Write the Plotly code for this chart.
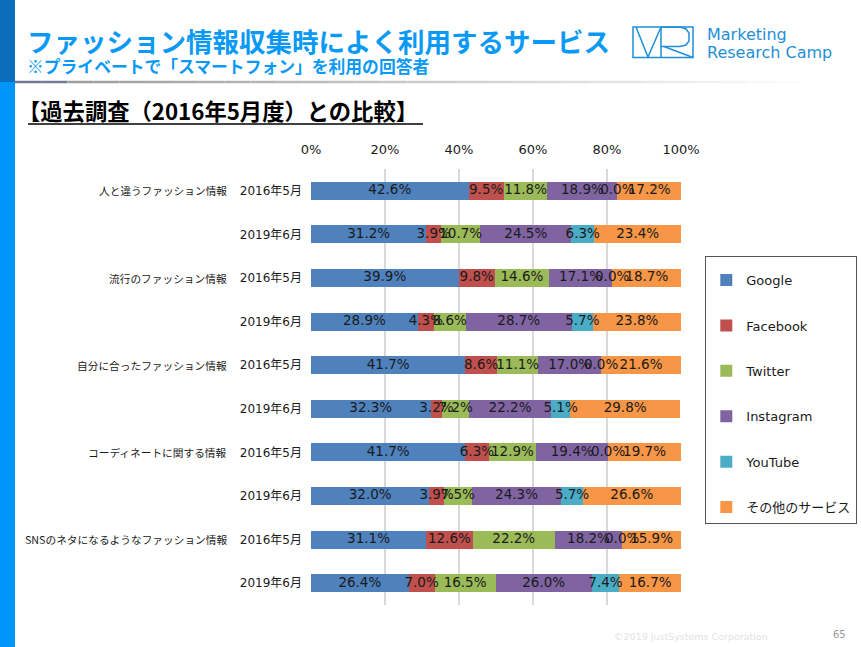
import numpy as np
import plotly.graph_objects as go

# ---------------- data ----------------
groups = ["人と違うファッション情報", "流行のファッション情報", "自分に合ったファッション情報",
          "コーディネートに関する情報", "SNSのネタになるようなファッション情報"]
periods = ["2016年5月", "2019年6月"]
series_names = ["Google", "Facebook", "Twitter", "Instagram", "YouTube", "その他のサービス"]
google = [42.6, 31.2, 39.9, 28.9, 41.7, 32.3, 41.7, 32.0, 31.1, 26.4]
facebook = [9.5, 3.9, 9.8, 4.3, 8.6, 3.2, 6.3, 3.9, 12.6, 7.0]
twitter = [11.8, 10.7, 14.6, 8.6, 11.1, 7.2, 12.9, 7.5, 22.2, 16.5]
instagram = [18.9, 24.5, 17.1, 28.7, 17.0, 22.2, 19.4, 24.3, 18.2, 26.0]
youtube = [0.0, 6.3, 0.0, 5.7, 0.0, 5.1, 0.0, 5.7, 0.0, 7.4]
other = [17.2, 23.4, 18.7, 23.8, 21.6, 29.8, 19.7, 26.6, 15.9, 16.7]
series_values = [google, facebook, twitter, instagram, youtube, other]
colors = ["#4F81BD", "#C0504D", "#9BBB59", "#8064A2", "#4BACC6", "#F79646"]
x_ticks = [0, 20, 40, 60, 80, 100]
x_tick_labels = ["0%", "20%", "40%", "60%", "80%", "100%"]

# ---------------- geometry helpers (page pixels -> paper) ----------------
W, H = 861, 647
L, R, T, B = 311, 681, 169, 605


def PX(x):
    return (x - L) / (R - L)


def PY(y):
    return (B - y) / (B - T)


rows = [f"{g}|{p}" for g in groups for p in periods]
ypos = list(range(len(rows)))
row_period = [r.split("|")[1] for r in rows]

LAT = "DejaVu Sans, Noto Sans CJK JP, sans-serif"
CJK = "Noto Sans CJK JP, sans-serif"
TXT = "#1a1a1a"

fig = go.Figure()
for name, vals, col in zip(series_names, series_values, colors):
    fig.add_trace(go.Bar(
        x=vals, y=ypos, orientation="h", name=name, legendgroup=name,
        marker=dict(color=col, line=dict(width=0)), width=0.41,
        hoverinfo="skip",
    ))

# data labels centred on each segment
cum = np.zeros(len(rows))
for name, vals in zip(series_names, series_values):
    v = np.array(vals, dtype=float)
    mid = cum + v / 2
    cum = cum + v
    fig.add_trace(go.Scatter(
        x=mid, y=ypos, mode="text", text=[f"{a:.1f}%" for a in v],
        textfont=dict(family=LAT, size=13.5, color=TXT),
        textposition="middle center", showlegend=False, hoverinfo="skip",
        cliponaxis=False,
    ))

shapes = []
# left band
shapes.append(dict(type="rect", xref="paper", yref="paper", x0=PX(0), x1=PX(15), y0=PY(0), y1=PY(82),
                   fillcolor="#0A6EBD", line=dict(width=0), layer="below"))
shapes.append(dict(type="rect", xref="paper", yref="paper", x0=PX(0), x1=PX(15), y0=PY(82), y1=PY(647),
                   fillcolor="#0096F8", line=dict(width=0), layer="below"))
# header gradient line
n = 30
for i in range(n):
    t = i / n
    c0 = np.array([110, 120, 150]) if t < 0.05 else np.array([150, 150, 150])
    c = (c0 + (np.array([255, 255, 255]) - c0) * t).astype(int)
    shapes.append(dict(type="line", xref="paper", yref="paper",
                       x0=PX(15 + (800 - 15) * i / n), x1=PX(15 + (800 - 15) * (i + 1) / n),
                       y0=PY(82), y1=PY(82),
                       line=dict(color=f"rgb({c[0]},{c[1]},{c[2]})", width=2.5)))
# heading underline
shapes.append(dict(type="line", xref="paper", yref="paper", x0=PX(28), x1=PX(423), y0=PY(124), y1=PY(124),
                   line=dict(color="#000000", width=1.3)))
# logo
LC = "#1f8fd6"
shapes.append(dict(type="rect", xref="paper", yref="paper", x0=PX(633), x1=PX(693), y0=PY(27), y1=PY(57.5),
                   line=dict(color=LC, width=1.5)))


def path(pts):
    return "M" + " L".join(f"{PX(a):.5f},{PY(b):.5f}" for a, b in pts)


shapes.append(dict(type="path", xref="paper", yref="paper", path=path([(636, 27), (648, 57), (661, 27)]),
                   line=dict(color=LC, width=1.5)))
shapes.append(dict(type="path", xref="paper", yref="paper", path=path([(661, 27), (661, 57.5)]),
                   line=dict(color=LC, width=1.5)))
bowl = [(661, 27), (680, 27), (686, 29), (689, 33), (689, 41), (686, 45), (680, 46.5), (661, 46.5)]
shapes.append(dict(type="path", xref="paper", yref="paper", path=path(bowl), line=dict(color=LC, width=1.5)))
shapes.append(dict(type="path", xref="paper", yref="paper", path=path([(664, 46.5), (693, 57.5)]),
                   line=dict(color=LC, width=1.5)))

ann = []
ann.append(dict(text="<b>ファッション情報収集時によく利用するサービス</b>", x=PX(25), y=PY(40),
                xanchor="left", yanchor="middle", font=dict(family=CJK, size=26.5, color="#0A9AF5")))
ann.append(dict(text="<b>※プライベートで「スマートフォン」を利用の回答者</b>", x=PX(25), y=PY(66),
                xanchor="left", yanchor="middle", font=dict(family=CJK, size=16.8, color="#0A9AF5")))
ann.append(dict(text="<b>【過去調査（2016年5月度）との比較】</b>", x=PX(16), y=PY(110),
                xanchor="left", yanchor="middle", font=dict(family=CJK, size=22.3, color="#000000")))
ann.append(dict(text="Marketing", x=PX(705), y=PY(35), xanchor="left", yanchor="middle",
                font=dict(family="DejaVu Sans, sans-serif", size=16, color=LC)))
ann.append(dict(text="Research Camp", x=PX(705), y=PY(52), xanchor="left", yanchor="middle",
                font=dict(family="DejaVu Sans, sans-serif", size=16, color=LC)))
ann.append(dict(text="©2019 JustSystems Corporation", x=PX(612), y=PY(636), xanchor="left", yanchor="middle",
                font=dict(family="DejaVu Sans, sans-serif", size=9.5, color="#e3e3e3")))
ann.append(dict(text="65", x=PX(848), y=PY(634), xanchor="right", yanchor="middle",
                font=dict(family="DejaVu Sans, sans-serif", size=10, color="#999999")))
for gi, g in enumerate(groups):
    ann.append(dict(text=g, xref="paper", yref="y", x=PX(229), y=gi * len(periods),
                    xanchor="right", yanchor="middle", showarrow=False,
                    font=dict(family=CJK, size=10.7, color=TXT)))
for a in ann:
    a.setdefault("xref", "paper")
    a.setdefault("yref", "paper")
    a["showarrow"] = False

fig.update_layout(
    width=W, height=H,
    margin=dict(l=L, r=W - R, t=T, b=H - B, pad=0, autoexpand=False),
    paper_bgcolor="white", plot_bgcolor="white",
    barmode="stack",
    showlegend=True,
    legend=dict(x=705 / W, y=1 - 256 / H, xref="container", yref="container",
                xanchor="left", yanchor="top",
                bordercolor="#555555", borderwidth=1.3, bgcolor="white",
                font=dict(family=LAT, size=13, color=TXT),
                title=dict(text=" ", font=dict(size=6)),
                tracegroupgap=25.5, itemwidth=30, traceorder="grouped"),
    xaxis=dict(range=[0, 100], side="top", tickvals=x_ticks, ticktext=x_tick_labels,
               showgrid=True, gridcolor="#d9d9d9", gridwidth=1.5, zeroline=False, showline=False,
               ticks="", tickfont=dict(family=LAT, size=13, color=TXT), ticklabelstandoff=11,
               fixedrange=True),
    yaxis=dict(range=[len(rows) - 0.5, -0.5], tickvals=ypos, ticktext=row_period,
               showgrid=False, zeroline=False, showline=False, ticks="",
               tickfont=dict(family=LAT, size=12, color=TXT), ticklabelstandoff=8,
               fixedrange=True),
    shapes=shapes, annotations=ann,
)

fig.write_html("out.html", config={"displayModeBar": False},
               post_script="document.body.style.margin='0';")
